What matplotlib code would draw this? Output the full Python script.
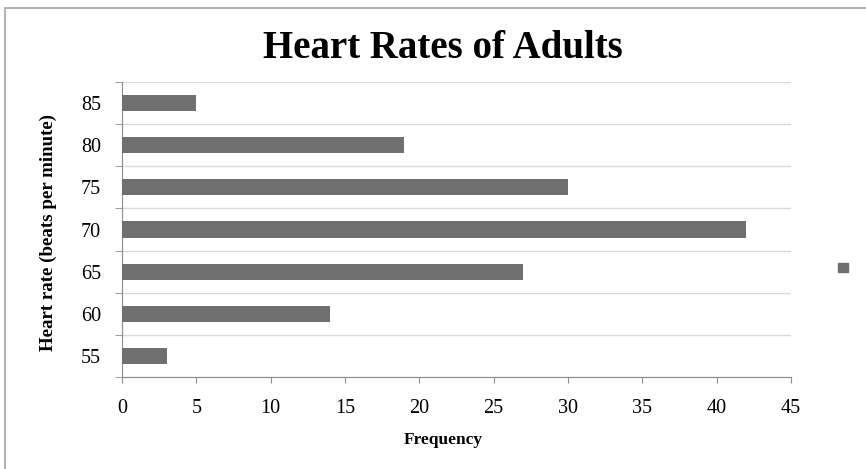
import numpy as np
import matplotlib.pyplot as plt
from matplotlib.patches import Rectangle

# data
heart_rates = ["55", "60", "65", "70", "75", "80", "85"]
frequency = [3, 14, 27, 42, 30, 19, 5]
x_ticks = [0, 5, 10, 15, 20, 25, 30, 35, 40, 45]

title = "Heart Rates of Adults"
bar_color = "#6f6f6f"
axis_color = "#8c8c8c"
grid_color = "#d9d9d9"

plt.rcParams["font.family"] = ["Liberation Serif", "DejaVu Serif"]

fig = plt.figure(figsize=(8.66, 4.69), dpi=100)
ax = fig.add_axes([122 / 866, 1 - 377 / 469, (791 - 122) / 866, (377 - 82) / 469])

# chart frame (runs off the right and bottom edge in the reference)
fig.patches.append(Rectangle((5 / 866, -0.1), 1.2, 1 - 8 / 469 + 0.1,
                             transform=fig.transFigure, fill=False,
                             edgecolor="#a6a6a6", linewidth=1.2))

ypos = np.arange(len(heart_rates))
ax.barh(ypos, frequency, height=0.38, color=bar_color, zorder=3)

ax.set_xlim(0, 45)
ax.set_ylim(-0.5, len(heart_rates) - 0.5)
ax.set_xticks(x_ticks)
ax.set_yticks(ypos)
ax.set_yticklabels(heart_rates)
ax.set_yticks(np.arange(len(heart_rates) + 1) - 0.5, minor=True)

ax.tick_params(axis="y", which="major", length=0, pad=15, labelsize=14.5)
ax.tick_params(axis="y", which="minor", length=5, color=axis_color, direction="out")
ax.tick_params(axis="x", length=4.5, color=axis_color, pad=11, labelsize=14.5)

ax.grid(axis="y", which="minor", color=grid_color, linewidth=1, zorder=0)

for side in ["top", "right"]:
    ax.spines[side].set_visible(False)
for side in ["left", "bottom"]:
    ax.spines[side].set_color(axis_color)

fig.text(443 / 866, 1 - 48 / 469, title, ha="center", va="center",
         fontsize=28, fontweight="bold")
fig.text(443 / 866, 1 - 440 / 469, "Frequency", ha="center", va="center",
         fontsize=12.5, fontweight="bold")
fig.text(48 / 866, 1 - 232 / 469, "Heart rate (beats per minute)", ha="center",
         va="center", rotation=90, fontsize=13.6, fontweight="bold")

# lone legend marker on the right
fig.patches.append(Rectangle((838 / 866, 1 - 272 / 469), 10 / 866, 9 / 469,
                             transform=fig.transFigure, color=bar_color))

fig.savefig("out.png", dpi=100)
